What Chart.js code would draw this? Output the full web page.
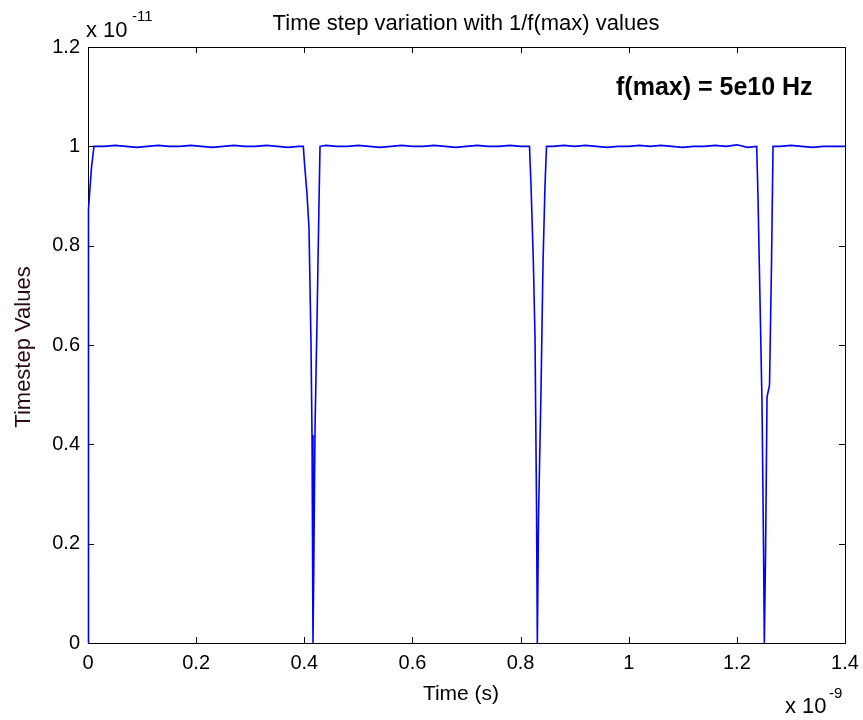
<!DOCTYPE html>
<html>
<head>
<meta charset="utf-8">
<script src="https://cdn.jsdelivr.net/npm/chart.js@4"></script>
<style>
  body { margin: 0; background: #fff; }
  canvas { display: block; }
</style>
</head>
<body>
<canvas id="myLineChart" width="863" height="720"></canvas>
<script>
// time axis values (x 1e-9 s)
var timeValues = [
  0, 0.0009, 0.0065, 0.0111,
  0.03, 0.05, 0.07, 0.09, 0.11, 0.13, 0.15, 0.17, 0.19, 0.21, 0.23, 0.25, 0.27, 0.29, 0.31, 0.33, 0.35, 0.37, 0.39,
  0.3982, 0.4004, 0.4050, 0.4087, 0.4124, 0.4143, 0.4161, 0.4174, 0.4198, 0.4235, 0.4272, 0.4291,
  0.44, 0.46, 0.48, 0.50, 0.52, 0.54, 0.56, 0.58, 0.60, 0.62, 0.64, 0.66, 0.68, 0.70, 0.72, 0.74, 0.76, 0.78, 0.80,
  0.8165, 0.8193, 0.8236, 0.8267, 0.8295, 0.8310, 0.8332, 0.8378, 0.8415, 0.8452, 0.8480,
  0.86, 0.88, 0.90, 0.92, 0.94, 0.96, 0.98, 1.00, 1.02, 1.04, 1.06, 1.08, 1.10, 1.12, 1.14, 1.16, 1.18, 1.20, 1.22,
  1.2367, 1.2391, 1.2428, 1.2465, 1.2493, 1.2508, 1.2530, 1.2558, 1.2604, 1.2641, 1.2669,
  1.28, 1.30, 1.32, 1.34, 1.36, 1.38, 1.40
];

// timestep values (x 1e-11)
var stepValues = [
  0, 0.874, 0.958, 1.0,
  1.0, 1.002, 1.0, 0.998, 1.0, 1.002, 1.0, 1.0, 1.002, 1.0, 0.998, 1.0, 1.002, 1.0, 1.0, 1.002, 1.0, 0.998, 1.0,
  1.0, 0.966, 0.904, 0.836, 0.604, 0.419, 0, 0.133, 0.429, 0.646, 0.886, 1.0,
  1.002, 1.0, 1.0, 1.002, 1.0, 0.998, 1.0, 1.002, 1.0, 1.0, 1.002, 1.0, 0.998, 1.0, 1.002, 1.0, 1.0, 1.002, 1.0,
  1.0, 0.922, 0.769, 0.616, 0.278, 0, 0.254, 0.509, 0.765, 0.922, 1.0,
  1.0, 1.002, 1.0, 1.002, 1.0, 0.998, 1.0, 1.0, 1.002, 1.0, 1.002, 1.0, 0.998, 1.0, 1.0, 1.002, 1.0, 1.003, 0.998,
  1.0, 0.898, 0.691, 0.483, 0.197, 0, 0.173, 0.495, 0.519, 0.765, 1.0,
  1.0, 1.002, 1.0, 0.998, 1.0, 1.0, 1.0
];

var xTickValues = [0, 0.2, 0.4, 0.6, 0.8, 1, 1.2, 1.4];
var yTickValues = [0, 0.2, 0.4, 0.6, 0.8, 1, 1.2];

var chartTitle = 'Time step variation with 1/f(max) values';
var xTitle = 'Time (s)';
var yTitle = 'Timestep Values';
var noteText = 'f(max) = 5e10 Hz';

var FONT = '"Liberation Sans", Arial, sans-serif';

// frame and inward ticks like a matlab axes box
var framePlugin = {
     id: 'frame',
     beforeDatasetsDraw: function(chart) {
          var ctx = chart.ctx;
          var a = chart.chartArea;
          var xs = chart.scales.x, ys = chart.scales.y;
          ctx.save();
          ctx.strokeStyle = '#000';
          ctx.lineWidth = 1;
          ctx.strokeRect(Math.round(a.left) + 0.5, Math.round(a.top) + 0.5,
               Math.round(a.right - a.left), Math.round(a.bottom - a.top));
          ctx.beginPath();
          xTickValues.forEach(function(v) {
               var px = Math.round(xs.getPixelForValue(v)) + 0.5;
               ctx.moveTo(px, a.bottom); ctx.lineTo(px, a.bottom - 6);
               ctx.moveTo(px, a.top); ctx.lineTo(px, a.top + 6);
          });
          yTickValues.forEach(function(v) {
               var py = Math.round(ys.getPixelForValue(v)) + 0.5;
               ctx.moveTo(a.left, py); ctx.lineTo(a.left + 6, py);
               ctx.moveTo(a.right, py); ctx.lineTo(a.right - 6, py);
          });
          ctx.stroke();
          ctx.restore();
     }
};

// title, axis labels, exponents and the note
var textPlugin = {
     id: 'texts',
     afterDraw: function(chart) {
          var ctx = chart.ctx;
          ctx.save();
          ctx.fillStyle = '#000';
          ctx.textBaseline = 'alphabetic';

          ctx.font = '22px ' + FONT;
          ctx.textAlign = 'center';
          ctx.fillText(chartTitle, 466, 30);
          ctx.font = '21px ' + FONT;
          ctx.fillText(xTitle, 461, 700);

          ctx.textAlign = 'left';
          ctx.font = '22px ' + FONT;
          ctx.fillText('x 10', 86, 37);
          ctx.fillText('x 10', 785, 713);
          ctx.font = '15px ' + FONT;
          ctx.fillText('-11', 132, 21);
          ctx.fillText('-9', 829, 698);

          ctx.font = 'bold 25px ' + FONT;
          ctx.fillText(noteText, 616, 95);

          ctx.font = '22px ' + FONT;
          ctx.fillStyle = '#2a0a10';
          ctx.translate(30, 347);
          ctx.rotate(-Math.PI / 2);
          ctx.textAlign = 'center';
          ctx.fillText(yTitle, 0, 0);
          ctx.restore();
     }
};

function createTimestepChart() {
     var points = timeValues.map(function(t, i) {
          return { x: t, y: stepValues[i] };
     });

     var ctxL = document.getElementById('myLineChart').getContext('2d');
     window.myLineChart = new Chart(ctxL, {
          type: 'scatter',
          data: {
               datasets: [{
                    label: 'Timestep',
                    data: points,
                    showLine: true,
                    borderColor: '#0000ff',
                    backgroundColor: '#0000ff',
                    borderWidth: 1.6,
                    pointRadius: 0,
                    tension: 0,
                    clip: 4
               }]
          },
          options: {
               responsive: false,
               animation: false,
               layout: { padding: { left: 0, right: 18, top: 47, bottom: 0 } },
               scales: {
                    x: {
                         type: 'linear',
                         min: 0,
                         max: 1.4,
                         afterBuildTicks: function(scale) {
                              scale.ticks = xTickValues.map(function(v) { return { value: v }; });
                         },
                         afterFit: function(scale) {
                              scale.height = 77;
                              scale.paddingLeft = 0;
                              scale.paddingRight = 0;
                         },
                         grid: { display: false, drawTicks: false },
                         border: { display: false },
                         ticks: {
                              color: '#000',
                              padding: 8,
                              maxRotation: 0,
                              font: { family: FONT, size: 20 },
                              callback: function(v) { return String(v); }
                         }
                    },
                    y: {
                         type: 'linear',
                         min: 0,
                         max: 1.2,
                         afterBuildTicks: function(scale) {
                              scale.ticks = yTickValues.map(function(v) { return { value: v }; });
                         },
                         afterFit: function(scale) {
                              scale.width = 88;
                              scale.paddingTop = 0;
                              scale.paddingBottom = 0;
                         },
                         grid: { display: false, drawTicks: false },
                         border: { display: false },
                         ticks: {
                              color: '#000',
                              padding: 8,
                              font: { family: FONT, size: 20 },
                              callback: function(v) { return String(v); }
                         }
                    }
               },
               plugins: {
                    legend: { display: false },
                    tooltip: { enabled: false }
               }
          },
          plugins: [framePlugin, textPlugin]
     });
}

createTimestepChart();
</script>
</body>
</html>
